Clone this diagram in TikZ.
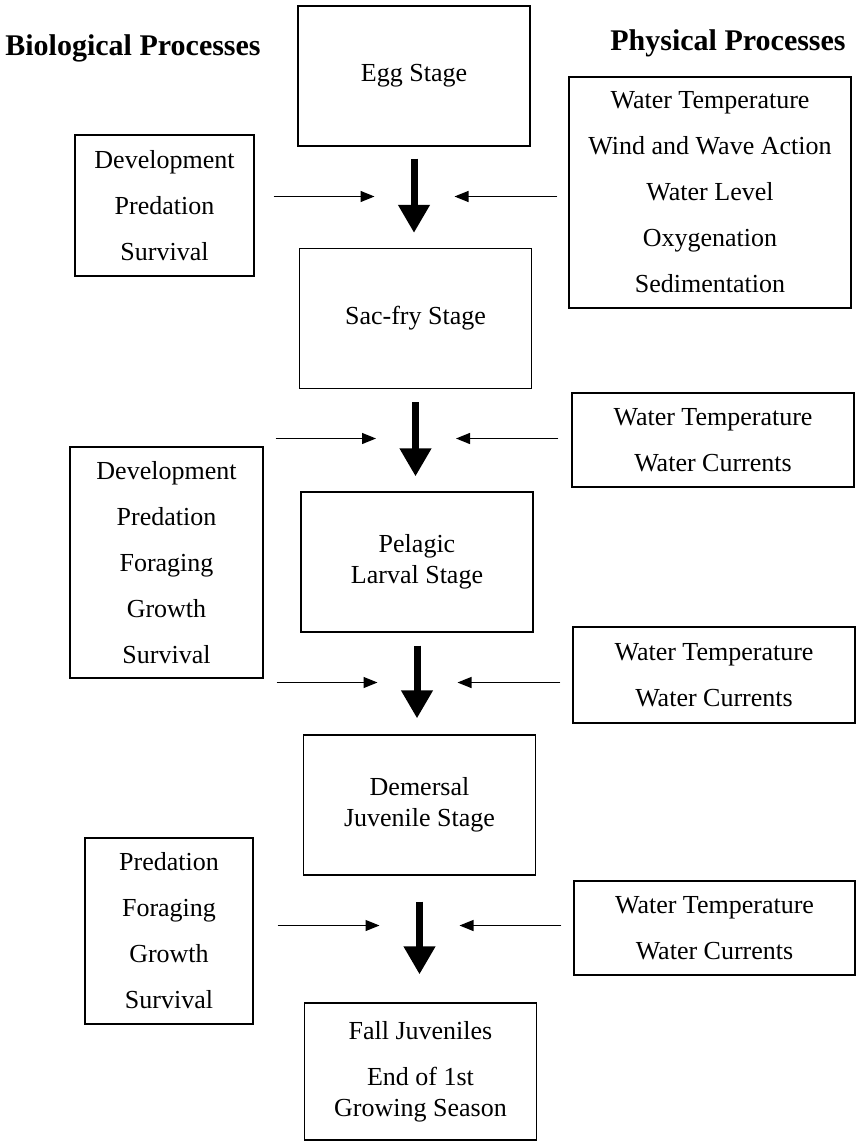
\documentclass[tikz,border=0pt]{standalone}
\usepackage{fontspec}
\setmainfont{Liberation Serif}
\usetikzlibrary{positioning,arrows.meta}

\begin{document}
\begin{tikzpicture}[x=1pt,y=-1pt,
	stagebox/.style={draw,line width=1.2pt,inner sep=0pt,minimum width=232pt,minimum height=140pt,align=center,font=\fontsize{26}{31}\selectfont},
	listbox/.style={draw,line width=1.2pt,inner sep=0pt,align=center,font=\fontsize{26}{46}\selectfont},
	headnode/.style={inner sep=0pt,font=\fontsize{30}{34}\selectfont\bfseries},
	bigarrow/.style={line width=7pt,-{Triangle[length=28pt,width=30pt]}},
	feedarrow/.style={line width=1.2pt,-{Triangle[length=14pt,width=11pt]},shorten >=40pt}]
	\useasboundingbox (0,0) rectangle (856,1142);

	% headings
	\node[headnode]	(bhead)	at (133,48)	{Biological Processes};
	\node[headnode]	(phead)	at (728,43)	{Physical Processes};

	% life stages
	\node[stagebox]							(s1)	at (414,76)		{Egg Stage};
	\node[stagebox]							(s2)	at (415.5,318.5)	{Sac-fry Stage};
	\node[stagebox]							(s3)	at (417,562)		{Pelagic\\Larval Stage};
	\node[stagebox]							(s4)	at (419.5,805)	{Demersal\\Juvenile Stage};
	\node[stagebox,minimum height=137pt]	(s5)	at (420.5,1071.5)	{Fall Juveniles\\[15pt]End of 1st\\Growing Season};

	% biological processes
	\node[listbox,minimum width=179pt,minimum height=141pt]	(b1)	at (164.5,205.5)	{Development\\Predation\\Survival};
	\node[listbox,minimum width=193pt,minimum height=231pt]	(b2)	at (166.5,562.5)	{Development\\Predation\\Foraging\\Growth\\Survival};
	\node[listbox,minimum width=168pt,minimum height=186pt]	(b3)	at (169,931)		{Predation\\Foraging\\Growth\\Survival};

	% physical processes
	\node[listbox,minimum width=282pt,minimum height=231pt]	(p1)	at (710,192.5)	{Water Temperature\\Wind and Wave Action\\Water Level\\Oxygenation\\Sedimentation};
	\node[listbox,minimum width=282pt,minimum height=94pt]	(p2)	at (713,440)		{Water Temperature\\Water Currents};
	\node[listbox,minimum width=282pt,minimum height=96pt]	(p3)	at (714,675)		{Water Temperature\\Water Currents};
	\node[listbox,minimum width=281pt,minimum height=94pt]	(p4)	at (714.5,928)	{Water Temperature\\Water Currents};

	% where the side arrows meet
	\coordinate	(j1)	at (414.5,196.5);
	\coordinate	(j2)	at (416,438.5);
	\coordinate	(j3)	at (417.5,682.5);
	\coordinate	(j4)	at (419.5,925.5);

	\draw[bigarrow,shorten <=12pt,shorten >=15pt] (s1.south) -- (s1.south |- s2.north);
	\draw[bigarrow,shorten <=13pt,shorten >=15pt] (s2.south) -- (s2.south |- s3.north);
	\draw[bigarrow,shorten <=13pt,shorten >=16pt] (s3.south) -- (s3.south |- s4.north);
	\draw[bigarrow,shorten <=26pt,shorten >=28pt] (s4.south) -- (s4.south |- s5.north);

	\draw[feedarrow,shorten <=19pt] (b1.east |- j1) -- (j1);
	\draw[feedarrow,shorten <=12pt] (b2.east |- j2) -- (j2);
	\draw[feedarrow,shorten <=13pt] (b2.east |- j3) -- (j3);
	\draw[feedarrow,shorten <=24pt] (b3.east |- j4) -- (j4);

	\draw[feedarrow,shorten <=11pt] (p1.west |- j1) -- (j1);
	\draw[feedarrow,shorten <=13pt] (p2.west |- j2) -- (j2);
	\draw[feedarrow,shorten <=12pt] (p3.west |- j3) -- (j3);
	\draw[feedarrow,shorten <=12pt] (p4.west |- j4) -- (j4);
\end{tikzpicture}
\end{document}
